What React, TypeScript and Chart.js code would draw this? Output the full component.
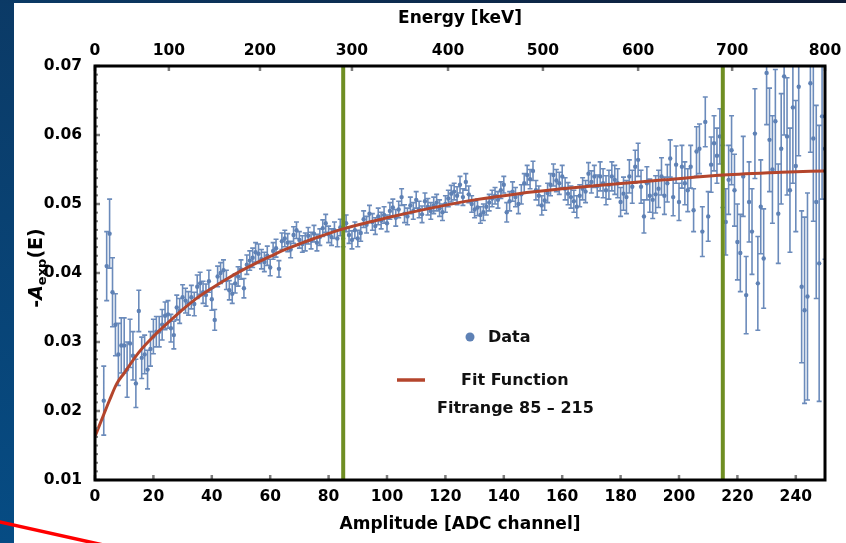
import React, { useEffect, useRef } from "react";
import { Chart, registerables } from "chart.js";

Chart.register(...registerables);

// ---------- data ----------
const FIRST_CHANNEL = 3; // first ADC channel with a data point

// -A_exp(E) per ADC channel 3 ... 250
const asymmetry: number[] = [
  0.0215, 0.0410, 0.0457, 0.0372, 0.0325, 0.0282, 0.0295, 0.0295, 0.0260, 0.0298,
  0.0280, 0.0240, 0.0345, 0.0277, 0.0282, 0.0260, 0.0290, 0.0308, 0.0315, 0.0315,
  0.0325, 0.0338, 0.0340, 0.0320, 0.0310, 0.0350, 0.0345, 0.0365, 0.0360, 0.0356,
  0.0365, 0.0355, 0.0380, 0.0385, 0.0372, 0.0368, 0.0388, 0.0362, 0.0332, 0.0395,
  0.0400, 0.0404, 0.0390, 0.0375, 0.0370, 0.0385, 0.0395, 0.0405, 0.0378, 0.0412,
  0.0418, 0.0422, 0.0430, 0.0428, 0.0420, 0.0416, 0.0425, 0.0408, 0.0432, 0.0436,
  0.0406, 0.0446, 0.0450, 0.0444, 0.0434, 0.0455, 0.0462, 0.0448, 0.0442, 0.0445,
  0.0454, 0.0447, 0.0457, 0.0444, 0.0452, 0.0465, 0.0472, 0.0456, 0.0452, 0.0462,
  0.0450, 0.0466, 0.0450, 0.0472, 0.0455, 0.0448, 0.0462, 0.0450, 0.0458, 0.0478,
  0.0470, 0.0486, 0.0474, 0.0468, 0.0482, 0.0476, 0.0484, 0.0472, 0.0490, 0.0495,
  0.0480, 0.0492, 0.0510, 0.0486, 0.0482, 0.0498, 0.0490, 0.0506, 0.0492, 0.0485,
  0.0504, 0.0496, 0.0490, 0.0498, 0.0502, 0.0494, 0.0488, 0.0500, 0.0508, 0.0515,
  0.0518, 0.0512, 0.0528, 0.0510, 0.0532, 0.0514, 0.0500, 0.0492, 0.0495, 0.0484,
  0.0488, 0.0496, 0.0502, 0.0508, 0.0512, 0.0506, 0.0520, 0.0528, 0.0488, 0.0504,
  0.0518, 0.0510, 0.0500, 0.0514, 0.0530, 0.0542, 0.0536, 0.0548, 0.0520, 0.0512,
  0.0498, 0.0505, 0.0516, 0.0528, 0.0542, 0.0534, 0.0530, 0.0540, 0.0522, 0.0515,
  0.0510, 0.0504, 0.0496, 0.0512, 0.0522, 0.0518, 0.0544, 0.0532, 0.0540, 0.0526,
  0.0540, 0.0530, 0.0520, 0.0528, 0.0540, 0.0535, 0.0530, 0.0503, 0.0515, 0.0510,
  0.0540, 0.0525, 0.0554, 0.0564, 0.0525, 0.0482, 0.0530, 0.0512, 0.0506, 0.0514,
  0.0522, 0.0540, 0.0512, 0.0530, 0.0566, 0.0510, 0.0557, 0.0503, 0.0554, 0.0530,
  0.0520, 0.0554, 0.0491, 0.0576, 0.0580, 0.0460, 0.0619, 0.0482, 0.0557, 0.0588,
  0.0570, 0.0598, 0.0540, 0.0474, 0.0535, 0.0578, 0.0520, 0.0445, 0.0429, 0.0540,
  0.0368, 0.0503, 0.0460, 0.0602, 0.0385, 0.0496, 0.0421, 0.0690, 0.0593, 0.0550,
  0.0620, 0.0486, 0.0580, 0.0685, 0.0598, 0.0520, 0.0640, 0.0555, 0.0670, 0.0380,
  0.0346, 0.0366, 0.0675, 0.0595, 0.0503, 0.0414, 0.0627, 0.0580,
];

// symmetric error per point
const asymmetryErr: number[] = [
  0.0050, 0.0050, 0.0050, 0.0050, 0.0045, 0.0045, 0.0040, 0.0040, 0.0040, 0.0035,
  0.0035, 0.0035, 0.0030, 0.0030, 0.0028, 0.0028, 0.0025, 0.0025, 0.0022, 0.0022,
  0.0022, 0.0020, 0.0020, 0.0020, 0.0020, 0.0018, 0.0018, 0.0018, 0.0018, 0.0017,
  0.0017, 0.0017, 0.0017, 0.0016, 0.0016, 0.0016, 0.0016, 0.0016, 0.0015, 0.0015,
  0.0015, 0.0015, 0.0014, 0.0014, 0.0014, 0.0014, 0.0014, 0.0014, 0.0014, 0.0014,
  0.0014, 0.0014, 0.0014, 0.0014, 0.0014, 0.0014, 0.0014, 0.0012, 0.0012, 0.0013,
  0.0012, 0.0012, 0.0012, 0.0013, 0.0012, 0.0012, 0.0012, 0.0012, 0.0012, 0.0013,
  0.0012, 0.0012, 0.0012, 0.0012, 0.0012, 0.0012, 0.0013, 0.0012, 0.0012, 0.0012,
  0.0012, 0.0012, 0.0012, 0.0012, 0.0012, 0.0013, 0.0012, 0.0012, 0.0012, 0.0012,
  0.0012, 0.0012, 0.0012, 0.0012, 0.0012, 0.0012, 0.0012, 0.0012, 0.0012, 0.0012,
  0.0012, 0.0012, 0.0012, 0.0013, 0.0012, 0.0012, 0.0012, 0.0012, 0.0012, 0.0012,
  0.0012, 0.0012, 0.0012, 0.0012, 0.0012, 0.0012, 0.0012, 0.0012, 0.0012, 0.0012,
  0.0012, 0.0013, 0.0012, 0.0012, 0.0012, 0.0012, 0.0012, 0.0012, 0.0012, 0.0012,
  0.0012, 0.0012, 0.0012, 0.0012, 0.0012, 0.0012, 0.0012, 0.0012, 0.0014, 0.0014,
  0.0014, 0.0014, 0.0014, 0.0014, 0.0014, 0.0014, 0.0014, 0.0014, 0.0014, 0.0014,
  0.0014, 0.0014, 0.0014, 0.0016, 0.0016, 0.0016, 0.0016, 0.0016, 0.0016, 0.0016,
  0.0016, 0.0016, 0.0016, 0.0016, 0.0016, 0.0016, 0.0016, 0.0016, 0.0016, 0.0016,
  0.0021, 0.0021, 0.0021, 0.0021, 0.0021, 0.0021, 0.0021, 0.0021, 0.0024, 0.0024,
  0.0024, 0.0024, 0.0024, 0.0024, 0.0024, 0.0024, 0.0024, 0.0024, 0.0027, 0.0027,
  0.0027, 0.0027, 0.0027, 0.0027, 0.0027, 0.0027, 0.0027, 0.0027, 0.0031, 0.0031,
  0.0031, 0.0031, 0.0031, 0.0036, 0.0036, 0.0036, 0.0036, 0.0036, 0.0040, 0.0040,
  0.0040, 0.0040, 0.0045, 0.0048, 0.0050, 0.0050, 0.0052, 0.0055, 0.0056, 0.0058,
  0.0056, 0.0058, 0.0062, 0.0065, 0.0068, 0.0068, 0.0072, 0.0075, 0.0075, 0.0078,
  0.0075, 0.0072, 0.0080, 0.0085, 0.0085, 0.0090, 0.0110, 0.0095, 0.0100, 0.0110,
  0.0135, 0.0150, 0.0100, 0.0120, 0.0140, 0.0200, 0.0120, 0.0160,
];

// fit curve
const fitChannels: number[] = [
  0, 3, 5, 7.5, 10, 15, 20, 25, 30, 35, 40, 45, 50, 55, 60, 65, 70, 75, 85, 100,
  115, 130, 145, 160, 175, 195, 215, 235, 250,
];
const fitValues: number[] = [
  0.0163, 0.0195, 0.0216, 0.024, 0.0255, 0.0285, 0.0308, 0.0328, 0.0347, 0.0364,
  0.0378, 0.0391, 0.0403, 0.0414, 0.0424, 0.0434, 0.0442, 0.045, 0.0464, 0.048,
  0.0494, 0.0506, 0.0515, 0.0522, 0.0528, 0.0535, 0.0542, 0.0546, 0.0548,
];

const fitRange: number[] = [85, 215];

const xTicks: number[] = [0, 20, 40, 60, 80, 100, 120, 140, 160, 180, 200, 220, 240];
const yTicks: number[] = [0.01, 0.02, 0.03, 0.04, 0.05, 0.06, 0.07];
const energyLabels: string[] = ["0", "100", "200", "300", "400", "500", "600", "700", "800"];
const energyTickChannels: number[] = [0, 25.3, 56.5, 88.0, 120.9, 153.4, 186.0, 218.2, 250];

// ---------- styling ----------
const FONT = "'DejaVu Sans', sans-serif";
const BLUE = "#5e81b5";
const FIT = "#b4452c";
const GREEN = "#6f8e23";

const backgroundPlugin = {
  id: "slideBackground",
  beforeDraw(chart: any) {
    const { ctx, width, height } = chart;
    ctx.save();
    ctx.fillStyle = "#ffffff";
    ctx.fillRect(0, 0, width, height);
    const g = ctx.createLinearGradient(0, 0, 0, height);
    g.addColorStop(0, "#0b3a66");
    g.addColorStop(1, "#064c84");
    ctx.fillStyle = g;
    ctx.fillRect(0, 0, 14, height);
    const g2 = ctx.createLinearGradient(0, 0, width, 0);
    g2.addColorStop(0, "#0b3a66");
    g2.addColorStop(1, "#0e1c36");
    ctx.fillStyle = g2;
    ctx.fillRect(0, 0, width, 3);
    ctx.restore();
  },
};

const overlayPlugin = {
  id: "overlay",
  afterDatasetsDraw(chart: any) {
    const { ctx, chartArea: a, scales } = chart;
    ctx.save();
    // inward tick marks
    ctx.strokeStyle = "#7c7c7c";
    ctx.lineWidth = 2.5;
    const seg = (x1: number, y1: number, x2: number, y2: number) => {
      ctx.beginPath();
      ctx.moveTo(x1, y1);
      ctx.lineTo(x2, y2);
      ctx.stroke();
    };
    xTicks.forEach((v) => {
      const px = scales.x.getPixelForValue(v);
      seg(px, a.bottom, px, a.bottom - 5);
    });
    energyTickChannels.forEach((v) => {
      const px = scales.x2.getPixelForValue(v);
      seg(px, a.top, px, a.top + 5);
    });
    yTicks.forEach((v) => {
      const py = scales.y.getPixelForValue(v);
      seg(a.left, py, a.left + 5, py);
    });
    ctx.lineWidth = 2;
    for (let k = 0; k <= 48; k++) {
      const py = scales.y.getPixelForValue(0.01 + k * 0.00125);
      seg(a.left, py, a.left + 3, py);
    }
    // frame
    ctx.strokeStyle = "#000";
    ctx.lineWidth = 3;
    ctx.strokeRect(a.left, a.top, a.right - a.left, a.bottom - a.top);

    // legend
    ctx.fillStyle = BLUE;
    ctx.beginPath();
    ctx.arc(470, 337, 4.5, 0, Math.PI * 2);
    ctx.fill();
    ctx.strokeStyle = FIT;
    ctx.lineWidth = 3.5;
    seg(397, 380, 425, 380);
    ctx.fillStyle = "#111";
    ctx.textBaseline = "middle";
    ctx.textAlign = "left";
    ctx.font = `bold 16px ${FONT}`;
    ctx.fillText("Data", 488, 338);
    ctx.fillText("Fit Function", 461, 381);
    ctx.fillText("Fitrange 85 \u2013 215", 437, 409);

    // y-axis title  -A_exp(E)
    ctx.save();
    ctx.translate(35, 268);
    ctx.rotate(-Math.PI / 2);
    ctx.textBaseline = "alphabetic";
    const parts: [string, string, number][] = [
      ["-", `bold 19px ${FONT}`, 0],
      ["A", `italic bold 19px ${FONT}`, 0],
      ["exp", `bold 13px ${FONT}`, 4],
      ["(E)", `bold 19px ${FONT}`, 0],
    ];
    let total = 0;
    const widths = parts.map(([t, f]) => {
      ctx.font = f;
      const w = ctx.measureText(t).width;
      total += w;
      return w;
    });
    let x = -total / 2;
    parts.forEach(([t, f, dy], i) => {
      ctx.font = f;
      ctx.fillStyle = "#000";
      ctx.fillText(t, x, 7 + dy);
      x += widths[i];
    });
    ctx.restore();
    ctx.restore();
  },
  afterDraw(chart: any) {
    const { ctx } = chart;
    ctx.save();
    ctx.strokeStyle = "#ff0000";
    ctx.lineWidth = 3.5;
    ctx.beginPath();
    ctx.moveTo(-2, 521.5);
    ctx.lineTo(110, 546.5);
    ctx.stroke();
    ctx.restore();
  },
};

export default function App() {
  const ref = useRef<HTMLCanvasElement>(null);

  useEffect(() => {
    const canvas = ref.current;
    if (!canvas) return;

    const points = asymmetry.map((v, i) => ({ x: FIRST_CHANNEL + i, y: v }));
    const cap = 0.85;
    const bars: any[] = [];
    asymmetry.forEach((v, i) => {
      const x = FIRST_CHANNEL + i;
      const lo = v - asymmetryErr[i];
      const hi = v + asymmetryErr[i];
      bars.push(
        { x, y: lo }, { x, y: hi }, { x, y: null },
        { x: x - cap, y: lo }, { x: x + cap, y: lo }, { x, y: null },
        { x: x - cap, y: hi }, { x: x + cap, y: hi }, { x, y: null }
      );
    });
    const fit = fitChannels.map((c, i) => ({ x: c, y: fitValues[i] }));
    const vline = (c: number) => [
      { x: c, y: yTicks[0] },
      { x: c, y: yTicks[yTicks.length - 1] },
    ];

    const tickFont = { family: FONT, size: 15.5, weight: "bold" as const };
    const titleFont = { family: FONT, size: 17, weight: "bold" as const };

    const chart = new Chart(canvas, {
      type: "scatter",
      data: {
        datasets: [
          {
            label: "Fit Function",
            data: fit,
            showLine: true,
            borderColor: FIT,
            borderWidth: 3,
            pointRadius: 0,
            cubicInterpolationMode: "monotone",
            clip: 0,
          } as any,
          {
            label: "fit start",
            data: vline(fitRange[0]),
            showLine: true,
            borderColor: GREEN,
            borderWidth: 4,
            pointRadius: 0,
          },
          {
            label: "fit end",
            data: vline(fitRange[1]),
            showLine: true,
            borderColor: GREEN,
            borderWidth: 4,
            pointRadius: 0,
          },
          {
            label: "Data",
            data: points,
            pointRadius: 2.2,
            pointBackgroundColor: BLUE,
            pointBorderWidth: 0,
            clip: 0,
          } as any,
          {
            label: "errors",
            data: bars,
            showLine: true,
            spanGaps: false,
            borderColor: "rgba(94,129,181,0.92)",
            borderWidth: 1.6,
            pointRadius: 0,
            clip: 0,
          } as any,
        ],
      },
      options: {
        responsive: false,
        animation: false,
        devicePixelRatio: 1,
        events: [],
        layout: { padding: { left: 0, right: 21, top: 0, bottom: 0 } },
        plugins: { legend: { display: false }, tooltip: { enabled: false } },
        scales: {
          x: {
            type: "linear",
            position: "bottom",
            min: 0,
            max: 250,
            afterBuildTicks: (s: any) => {
              s.ticks = xTicks.map((v) => ({ value: v }));
            },
            afterFit: (s: any) => {
              s.height = 63;
            },
            grid: { display: false },
            border: { display: false },
            ticks: { autoSkip: false, maxRotation: 0, padding: 0, color: "#000", font: tickFont },
            title: {
              display: true,
              text: "Amplitude [ADC channel]",
              color: "#000",
              font: titleFont,
              padding: { top: 0, bottom: 8 },
            },
          },
          x2: {
            type: "linear",
            position: "top",
            min: 0,
            max: 250,
            afterBuildTicks: (s: any) => {
              s.ticks = energyTickChannels.map((v) => ({ value: v }));
            },
            afterFit: (s: any) => {
              s.height = 66;
            },
            grid: { display: false },
            border: { display: false },
            ticks: {
              autoSkip: false,
              maxRotation: 0,
              padding: -2,
              color: "#000",
              font: tickFont,
              callback: (_v: any, i: number) => energyLabels[i],
            },
            title: {
              display: true,
              text: "Energy [keV]",
              color: "#000",
              font: titleFont,
              padding: { top: 8, bottom: 0 },
            },
          },
          y: {
            type: "linear",
            position: "left",
            min: 0.01,
            max: 0.07,
            afterBuildTicks: (s: any) => {
              s.ticks = yTicks.map((v) => ({ value: v }));
            },
            afterFit: (s: any) => {
              s.width = 95;
            },
            grid: { display: false },
            border: { display: false },
            ticks: {
              autoSkip: false,
              padding: 5,
              color: "#000",
              font: tickFont,
              callback: (v: any) => Number(v).toFixed(2),
            },
          },
        },
      } as any,
      plugins: [backgroundPlugin, overlayPlugin],
    });

    return () => chart.destroy();
  }, []);

  return (
    <canvas
      ref={ref}
      width={846}
      height={543}
      style={{ position: "fixed", left: 0, top: 0, display: "block" }}
    />
  );
}
